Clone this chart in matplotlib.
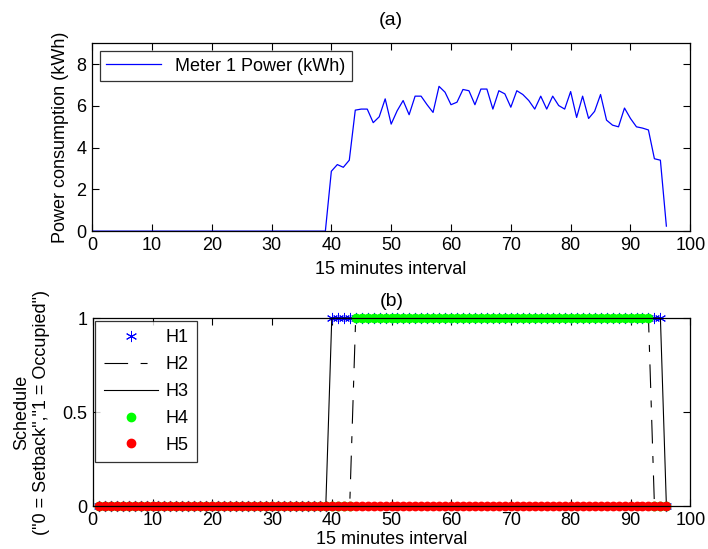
import numpy as np
import matplotlib.pyplot as plt

plt.rcParams['font.family'] = ['Liberation Sans', 'DejaVu Sans']
plt.rcParams['lines.scale_dashes'] = False

# (a) meter power, 15 min intervals 0..96
power_x = np.arange(0, 97)
power_on = [2.87, 3.19, 3.06, 3.40, 5.80, 5.85, 5.85, 5.20, 5.48, 6.34,
            5.13, 5.77, 6.26, 5.58, 6.47, 6.47, 6.06, 5.69, 6.94, 6.66,
            6.06, 6.18, 6.79, 6.73, 6.06, 6.81, 6.81, 5.85, 6.73, 6.58,
            5.94, 6.73, 6.55, 6.26, 5.85, 6.47, 5.85, 6.47, 6.02, 5.85,
            6.69, 5.45, 6.47, 5.40, 5.74, 6.55, 5.32, 5.08, 5.00, 5.90,
            5.40, 5.00, 4.94, 4.85, 3.47, 3.40, 0.24]
power = [0.0] * 40 + power_on

# (b) schedules, intervals 1..96
sched_x = np.arange(1, 97)
h1 = [0] * 39 + [1] * 56 + [0]
h2 = [0] * 43 + [1] * 50 + [0] * 3
h3 = list(h1)
h4 = list(h2)
h5 = [0] * 96

fs = 13
fig = plt.figure(figsize=(7.08, 5.49), dpi=100)
ax1 = fig.add_axes([0.130, 0.579, 0.845, 0.342])
ax2 = fig.add_axes([0.131, 0.0783, 0.844, 0.342])

ax1.plot(power_x, power, color='b', lw=0.9, label='Meter 1 Power (kWh)')
ax1.set_xlim(0, 100)
ax1.set_ylim(0, 9)
ax1.set_yticks([0, 2, 4, 6, 8])
ax1.set_xticks(range(0, 101, 10))
ax1.set_xlabel('15 minutes interval', fontsize=fs, labelpad=5)
ax1.set_ylabel('Power consumption (kWh)', fontsize=fs, labelpad=5)
ax1.set_title('(a)', fontsize=fs + 1, pad=13)
leg = ax1.legend(loc='upper left', fontsize=fs, frameon=True, fancybox=False,
                 edgecolor='k', handlelength=3.0, borderaxespad=0.45,
                 borderpad=0.35)
leg.get_frame().set_linewidth(0.9)

ax2.plot(sched_x, h1, ls='none', marker=(6, 2, 0), color='b', ms=8, mew=0.7, label='H1')
ax2.plot(sched_x, h2, ls='--', dashes=(17, 9, 5, 9), color='k', lw=0.8, label='H2')
ax2.plot(sched_x, h3, ls='-', color='k', lw=0.8, label='H3')
ax2.plot(sched_x, h4, ls='none', marker='o', color=(0, 1, 0), ms=6, label='H4')
ax2.plot(sched_x, h5, ls='none', marker='o', color=(1, 0, 0), ms=6, label='H5')
ax2.set_xlim(0, 100)
ax2.set_ylim(0, 1)
ax2.set_yticks([0, 0.5, 1])
ax2.set_yticklabels(['0', '0.5', '1'])
ax2.set_xticks(range(0, 101, 10))
ax2.set_xlabel('15 minutes interval', fontsize=fs, labelpad=2)
ax2.set_ylabel('Schedule\n("0 = Setback","1 = Occupied")', fontsize=fs, labelpad=9)
ax2.set_title('(b)', fontsize=fs + 1, pad=9)
leg2 = ax2.legend(loc='upper left', fontsize=fs, frameon=True, fancybox=False,
                  edgecolor='k', handlelength=3.0, handletextpad=0.45,
                  borderaxespad=0.15, labelspacing=0.55, borderpad=0.45)
leg2.get_frame().set_linewidth(0.9)

for ax in (ax1, ax2):
    ax.tick_params(direction='in', top=True, right=True, labelsize=fs,
                   length=5, width=0.8, pad=4)
    for s in ax.spines.values():
        s.set_linewidth(0.9)
for line in ax2.lines:
    line.set_clip_on(False)

fig.savefig('out.png', dpi=100)
